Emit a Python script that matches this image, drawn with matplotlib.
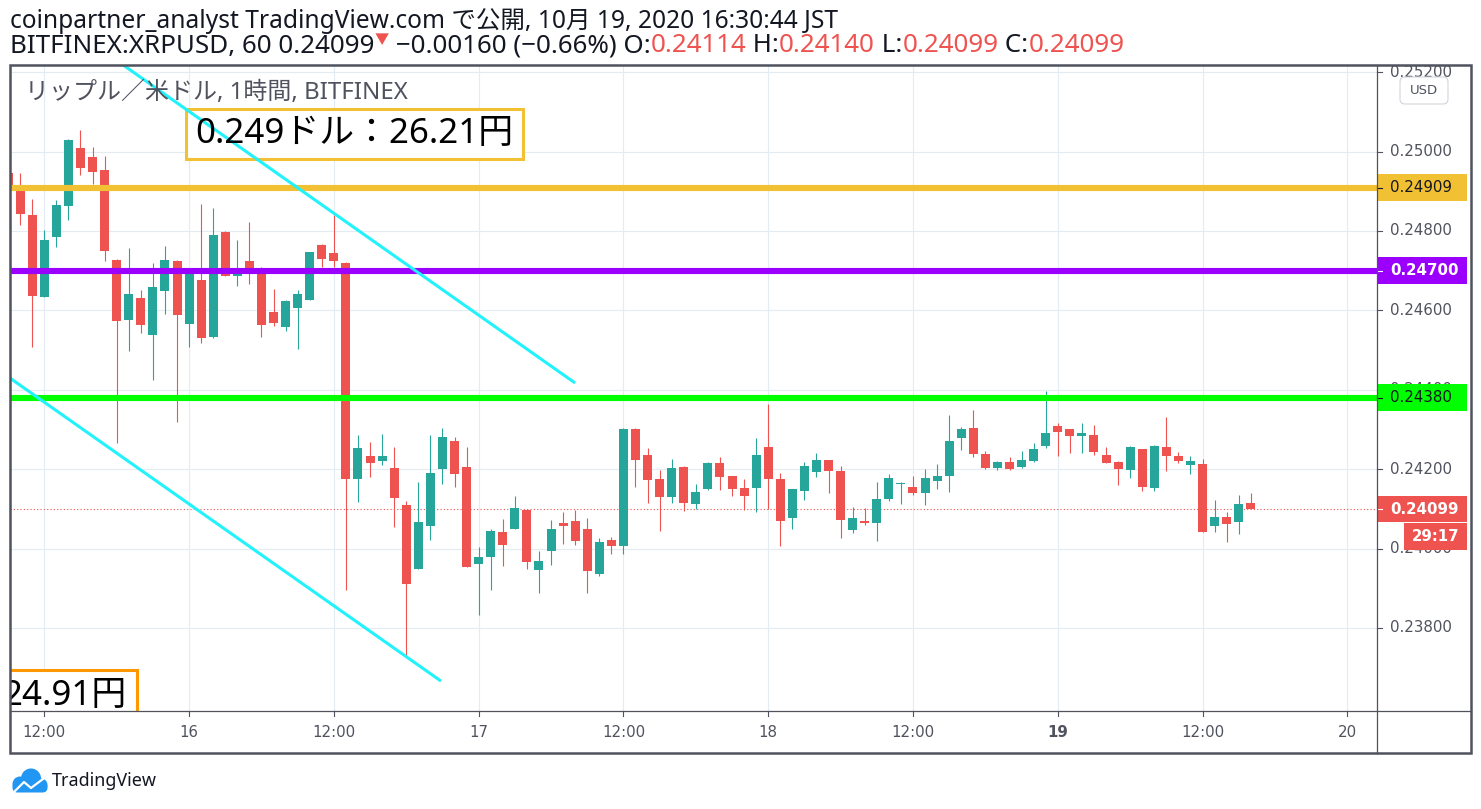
import matplotlib
matplotlib.use("Agg")
import matplotlib.pyplot as plt
import matplotlib.transforms as mtransforms
from matplotlib.patches import Rectangle, FancyBboxPatch, Circle
from matplotlib.lines import Line2D
from matplotlib.transforms import Bbox, TransformedBbox

W, H = 1481, 809

# ---------------- data ----------------
# hours counted from 2020-10-15 00:00 (1h candles, XRPUSD BITFINEX)
hours = list(range(9, 113))
opens = [0.24945, 0.24903, 0.24840, 0.24633, 0.24785, 0.24863, 0.25008, 0.24985, 0.24953, 0.24727,
         0.24576, 0.24631, 0.24538, 0.24649, 0.24724, 0.24565, 0.24676, 0.24533, 0.24797, 0.24687,
         0.24724, 0.24707, 0.24596, 0.24559, 0.24607, 0.24626, 0.24764, 0.24744, 0.24720, 0.24175,
         0.24233, 0.24220, 0.24203, 0.24110, 0.23948, 0.24057, 0.24200, 0.24271, 0.24205, 0.23961,
         0.23979, 0.24042, 0.24049, 0.24097, 0.23946, 0.23994, 0.24064, 0.24069, 0.24049, 0.23936,
         0.24021, 0.24006, 0.24301, 0.24235, 0.24175, 0.24130, 0.24205, 0.24112, 0.24150, 0.24215,
         0.24183, 0.24152, 0.24152, 0.24256, 0.24175, 0.24077, 0.24145, 0.24193, 0.24223, 0.24195,
         0.24047, 0.24069, 0.24064, 0.24125, 0.24162, 0.24155, 0.24140, 0.24170, 0.24183, 0.24278,
         0.24303, 0.24238, 0.24203, 0.24218, 0.24205, 0.24220, 0.24258, 0.24309, 0.24301, 0.24283,
         0.24286, 0.24235, 0.24218, 0.24198, 0.24251, 0.24152, 0.24256, 0.24233, 0.24210, 0.24213,
         0.24057, 0.24079, 0.24067, 0.24114]
highs = [0.24955, 0.24945, 0.24880, 0.24802, 0.24878, 0.25031, 0.25054, 0.25011, 0.24989, 0.24730,
         0.24756, 0.24651, 0.24720, 0.24762, 0.24727, 0.24695, 0.24868, 0.24858, 0.24799, 0.24777,
         0.24822, 0.24710, 0.24654, 0.24626, 0.24651, 0.24747, 0.24767, 0.24840, 0.24722, 0.24286,
         0.24268, 0.24288, 0.24256, 0.24120, 0.24167, 0.24286, 0.24303, 0.24281, 0.24256, 0.24004,
         0.24049, 0.24074, 0.24132, 0.24099, 0.23994, 0.24072, 0.24092, 0.24097, 0.24077, 0.24026,
         0.24029, 0.24303, 0.24303, 0.24253, 0.24198, 0.24225, 0.24208, 0.24162, 0.24218, 0.24230,
         0.24183, 0.24175, 0.24278, 0.24364, 0.24190, 0.24150, 0.24218, 0.24241, 0.24223, 0.24208,
         0.24105, 0.24102, 0.24167, 0.24188, 0.24167, 0.24183, 0.24200, 0.24213, 0.24336, 0.24306,
         0.24349, 0.24246, 0.24220, 0.24230, 0.24246, 0.24266, 0.24397, 0.24316, 0.24301, 0.24316,
         0.24311, 0.24256, 0.24220, 0.24258, 0.24251, 0.24261, 0.24331, 0.24243, 0.24233, 0.24225,
         0.24122, 0.24092, 0.24135, 0.24140]
lows = [0.24890, 0.24816, 0.24508, 0.24633, 0.24760, 0.24827, 0.24941, 0.24918, 0.24725, 0.24265,
        0.24498, 0.24544, 0.24424, 0.24591, 0.24319, 0.24507, 0.24517, 0.24529, 0.24687, 0.24661,
        0.24666, 0.24533, 0.24560, 0.24549, 0.24502, 0.24626, 0.24710, 0.24710, 0.23895, 0.24117,
        0.24180, 0.24210, 0.24054, 0.23732, 0.23948, 0.24021, 0.24162, 0.24155, 0.23953, 0.23832,
        0.23895, 0.23956, 0.24049, 0.23948, 0.23888, 0.23958, 0.24011, 0.24009, 0.23888, 0.23931,
        0.23986, 0.23986, 0.24155, 0.24115, 0.24044, 0.24115, 0.24094, 0.24099, 0.24147, 0.24147,
        0.24132, 0.24097, 0.24092, 0.24099, 0.24006, 0.24049, 0.24122, 0.24180, 0.24140, 0.24026,
        0.24039, 0.24059, 0.24019, 0.24120, 0.24112, 0.24135, 0.24110, 0.24150, 0.24142, 0.24248,
        0.24230, 0.24200, 0.24198, 0.24198, 0.24203, 0.24218, 0.24253, 0.24233, 0.24241, 0.24241,
        0.24235, 0.24215, 0.24160, 0.24178, 0.24145, 0.24145, 0.24195, 0.24215, 0.24188, 0.24042,
        0.24042, 0.24016, 0.24037, 0.24099]
closes = [0.24903, 0.24843, 0.24637, 0.24777, 0.24865, 0.25029, 0.24959, 0.24949, 0.24750, 0.24574,
          0.24641, 0.24563, 0.24658, 0.24727, 0.24588, 0.24693, 0.24529, 0.24790, 0.24687, 0.24691,
          0.24691, 0.24563, 0.24569, 0.24623, 0.24641, 0.24747, 0.24729, 0.24724, 0.24175, 0.24253,
          0.24215, 0.24233, 0.24127, 0.23911, 0.24067, 0.24190, 0.24281, 0.24188, 0.23953, 0.23979,
          0.24044, 0.24009, 0.24102, 0.23966, 0.23968, 0.24049, 0.24057, 0.24019, 0.23943, 0.24016,
          0.24006, 0.24301, 0.24223, 0.24172, 0.24130, 0.24203, 0.24115, 0.24142, 0.24215, 0.24180,
          0.24150, 0.24132, 0.24235, 0.24175, 0.24069, 0.24150, 0.24208, 0.24223, 0.24195, 0.24072,
          0.24077, 0.24064, 0.24125, 0.24178, 0.24165, 0.24140, 0.24178, 0.24183, 0.24271, 0.24301,
          0.24238, 0.24203, 0.24218, 0.24200, 0.24223, 0.24251, 0.24291, 0.24293, 0.24283, 0.24291,
          0.24243, 0.24215, 0.24200, 0.24256, 0.24155, 0.24258, 0.24233, 0.24220, 0.24220, 0.24042,
          0.24079, 0.24062, 0.24112, 0.24099]

level_prices = [0.24909, 0.24700, 0.24380]
level_colors = ["#f2c033", "#9b00ff", "#00ff00"]
level_text_colors = ["#131722", "#ffffff", "#131722"]
last_price = closes[-1]
countdown = "29:17"

price_ticks = [0.252, 0.250, 0.248, 0.246, 0.244, 0.242, 0.240, 0.238]
time_ticks = [12, 24, 36, 48, 60, 72, 84, 96, 108, 120]
time_labels = ["12:00", "16", "12:00", "17", "12:00", "18", "12:00", "19", "12:00", "20"]
time_bold = [False, False, False, False, False, False, False, True, False, False]

# trend lines (hour, price)
upper_trend_h = [17.5, 55.99]
upper_trend_p = [0.25240, 0.24417]
lower_trend_h = [8.0, 44.88]
lower_trend_p = [0.24454, 0.23666]

title_line1 = "coinpartner_analyst TradingView.com で公開, 10月 19, 2020 16:30:44 JST"
symbol_text = "BITFINEX:XRPUSD, 60"
change_text = "−0.00160 (−0.66%)"
legend_text = "リップル／米ドル, 1時間, BITFINEX"
note1_text = "0.249ドル：26.21円"
note2_text = "24.91円"

# ---------------- style ----------------
UP = "#26a69a"
DOWN = "#ef5350"
DARK = "#131722"
AXC = "#50535e"
GRID = "#e3ecf2"
CYAN = "#22f2fb"
JP = ["Noto Sans", "Noto Sans CJK JP", "DejaVu Sans"]

fig = plt.figure(figsize=(W / 100, H / 100), dpi=100)
fig.patch.set_facecolor("white")
renderer = fig.canvas.get_renderer()
# pixel transform, origin top-left
ptrans = mtransforms.Affine2D().scale(1.0 / W, -1.0 / H).translate(0, 1) + fig.transFigure

PL, PR, PT, PB = 10, 1377, 65, 711
FR, FB = 1471, 753
ax = fig.add_axes([PL / W, 1 - PB / H, (PR - PL) / W, (PB - PT) / H])
XMIN, XMAX = 9.157, 122.46
YMIN, YMAX = 0.235907, 0.252179
ax.axis("off")

# grid
for p in price_ticks:
    ax.axhline(p, color=GRID, lw=0.8, zorder=0)
for t in time_ticks:
    ax.axvline(t, color=GRID, lw=0.8, zorder=0)

# last price dotted line
ax.axhline(last_price, color=DOWN, lw=0.8, ls=(0, (1, 2)), zorder=1)

# candles
bw = 0.746
for h, o, hi, lo, c in zip(hours, opens, highs, lows, closes):
    col = UP if c >= o else DOWN
    ax.plot([h, h], [lo, hi], color=col, lw=0.8, solid_capstyle="butt", zorder=2)
    bot = min(o, c)
    ht = max(abs(c - o), 0.00003)
    ax.add_patch(Rectangle((h - bw / 2, bot), bw, ht, facecolor=col, edgecolor="none", zorder=2))

# level lines
for p, col in zip(level_prices, level_colors):
    ax.axhline(p, color=col, lw=4.4, zorder=3)

# note boxes (pixel placed, clipped to plot)
box1 = Rectangle((186, 108.5), 337, 50.5, facecolor="white", edgecolor="#f2c033", lw=2.2,
                 transform=ptrans, zorder=4)
ax.add_patch(box1)
box2 = Rectangle((-40, 670), 177, 52, facecolor="white", edgecolor="#ff9800", lw=2.2,
                 transform=ptrans, zorder=4)
ax.add_patch(box2)

# trend lines
ax.plot(upper_trend_h, upper_trend_p, color=CYAN, lw=2.2, solid_capstyle="butt", zorder=5)
ax.plot(lower_trend_h, lower_trend_p, color=CYAN, lw=2.2, solid_capstyle="butt", zorder=5)

ax.set_xlim(XMIN, XMAX)
ax.set_ylim(YMIN, YMAX)


def fit(t, target_w):
    w = t.get_window_extent(renderer).width
    t.set_fontsize(t.get_fontsize() * target_w / w)
    return t


t1 = ax.text(195, 134, note1_text, transform=ptrans, family=JP, fontsize=26, color="black",
             ha="left", va="center", zorder=6, clip_on=True)
fit(t1, 318)
fs_note = t1.get_fontsize()
t2 = ax.text(127, 696, note2_text, transform=ptrans, family=JP, fontsize=fs_note, color="black",
             ha="right", va="center", zorder=6, clip_on=True)

# legend label
tl = ax.text(25, 93, legend_text, transform=ptrans, family=JP, fontsize=15, color=AXC,
             ha="left", va="center", zorder=6)
fit(tl, 383)

# ---------------- price axis ----------------
yblend = mtransforms.blended_transform_factory(ptrans, ax.transData)
pclip = TransformedBbox(Bbox([[PR, PT], [FR, PB]]), ptrans)
for p in price_ticks:
    fig.add_artist(Line2D([PR, PR + 5], [p, p], color=AXC, lw=0.8, transform=yblend, zorder=3))
    tt = fig.text(1390, p, f"{p:.5f}", transform=yblend, fontsize=10.8, color=AXC,
                  family="DejaVu Sans", ha="left", va="center", zorder=3)
    tt.set_clip_box(pclip)
    tt.set_clip_on(True)

ppx = (YMAX - YMIN) / (PB - PT)  # price per pixel
bh = 26.5 * ppx
for p, col, tc in list(zip(level_prices, level_colors, level_text_colors)) + [(last_price, DOWN, "#ffffff")]:
    fig.add_artist(Rectangle((PR, p - bh / 2), 90, bh, facecolor=col, edgecolor="none",
                             transform=yblend, zorder=4))
    fig.add_artist(Line2D([PR, PR + 5], [p, p], color=tc, lw=0.8, transform=yblend, zorder=5))
    fig.text(1390, p, f"{p:.5f}", transform=yblend, fontsize=10.8, color=tc,
             family="DejaVu Sans", ha="left", va="center", zorder=5,
             fontweight="bold" if tc == "#ffffff" else "normal")
cd_top = last_price - bh / 2 - 1 * ppx
fig.add_artist(Rectangle((1404, cd_top - bh), 63, bh, facecolor=DOWN, edgecolor="none",
                         transform=yblend, zorder=4))
fig.text(1435.5, cd_top - bh / 2, countdown, transform=yblend, fontsize=10.8, color="white",
         family="DejaVu Sans", fontweight="bold", ha="center", va="center", zorder=5)

# USD button
fig.add_artist(FancyBboxPatch((1400, 77), 48, 27, boxstyle="round,pad=0,rounding_size=5",
                              facecolor="white", edgecolor="#d1d4dc", lw=0.8,
                              transform=ptrans, zorder=6))
fig.text(1424, 90.5, "USD", transform=ptrans, fontsize=9.5, color=AXC, family="DejaVu Sans",
         ha="center", va="center", zorder=7)

# ---------------- time axis ----------------
xblend = mtransforms.blended_transform_factory(ax.transData, ptrans)
for t, lab, b in zip(time_ticks, time_labels, time_bold):
    fig.add_artist(Line2D([t, t], [PB, PB + 5], color=AXC, lw=0.8, transform=xblend, zorder=3))
    fig.text(t, 733, lab, transform=xblend, fontsize=10.8, color=AXC, family="DejaVu Sans",
             fontweight="bold" if b else "normal", ha="center", va="center", zorder=3)

# ---------------- frame ----------------
fig.add_artist(Rectangle((PL, PT), FR - PL, FB - PT, fill=False, edgecolor=AXC, lw=1.8,
                         transform=ptrans, zorder=8))
fig.add_artist(Line2D([PR, PR], [PT, FB], color=AXC, lw=0.9, transform=ptrans, zorder=8))
fig.add_artist(Line2D([PL, FR], [PB, PB], color=AXC, lw=0.9, transform=ptrans, zorder=8))

# ---------------- header ----------------
h1 = fig.text(10, 21, title_line1, transform=ptrans, family=JP, fontsize=16, color=DARK,
              ha="left", va="center")
fit(h1, 828)


def seg_width(s, fs):
    a = fig.text(0, 0, "|" + s + "|", fontsize=fs, family=JP)
    b = fig.text(0, 0, "||", fontsize=fs, family=JP)
    w = a.get_window_extent(renderer).width - b.get_window_extent(renderer).width
    a.remove()
    b.remove()
    return w


segs = [
    (f"{symbol_text} {last_price:.5f}", DARK, 1.0),
    ("▼", DOWN, 0.55),
    (f" {change_text} O:", DARK, 1.0),
    (f"{opens[-1]:.5f}", DOWN, 1.0),
    (" H:", DARK, 1.0),
    (f"{highs[-1]:.5f}", DOWN, 1.0),
    (" L:", DARK, 1.0),
    (f"{lows[-1]:.5f}", DOWN, 1.0),
    (" C:", DARK, 1.0),
    (f"{closes[-1]:.5f}", DOWN, 1.0),
]
base = 16
tot = sum(seg_width(s, base * k) for s, c, k in segs)
fs2 = base * 1116 / tot
x = 10
for s, c, k in segs:
    yy = 46 if k == 1.0 else 41
    fig.text(x, yy, s, transform=ptrans, family=JP, fontsize=fs2 * k, color=c, ha="left", va="center")
    x += seg_width(s, fs2 * k)

# ---------------- TradingView logo ----------------
LOGO = "#2196f3"
for cx, cy, r in [(20, 784, 7.5), (31, 778.5, 10), (41, 785, 6.5)]:
    fig.add_artist(Circle((cx, cy), r, facecolor=LOGO, edgecolor="none", transform=ptrans, zorder=3))
fig.add_artist(FancyBboxPatch((12.5, 782), 35, 10.5, boxstyle="round,pad=0,rounding_size=5",
                              facecolor=LOGO, edgecolor="none", transform=ptrans, zorder=3))
fig.add_artist(Line2D([15, 24, 31, 43], [791, 782, 788, 779], color="white", lw=1.6,
                      transform=ptrans, zorder=4))
tv = fig.text(52, 781, "TradingView", transform=ptrans, family=["Noto Sans", "DejaVu Sans"],
              fontsize=13, color=DARK, ha="left", va="center")
fit(tv, 105)

fig.savefig("out.png", dpi=100, facecolor="white")
